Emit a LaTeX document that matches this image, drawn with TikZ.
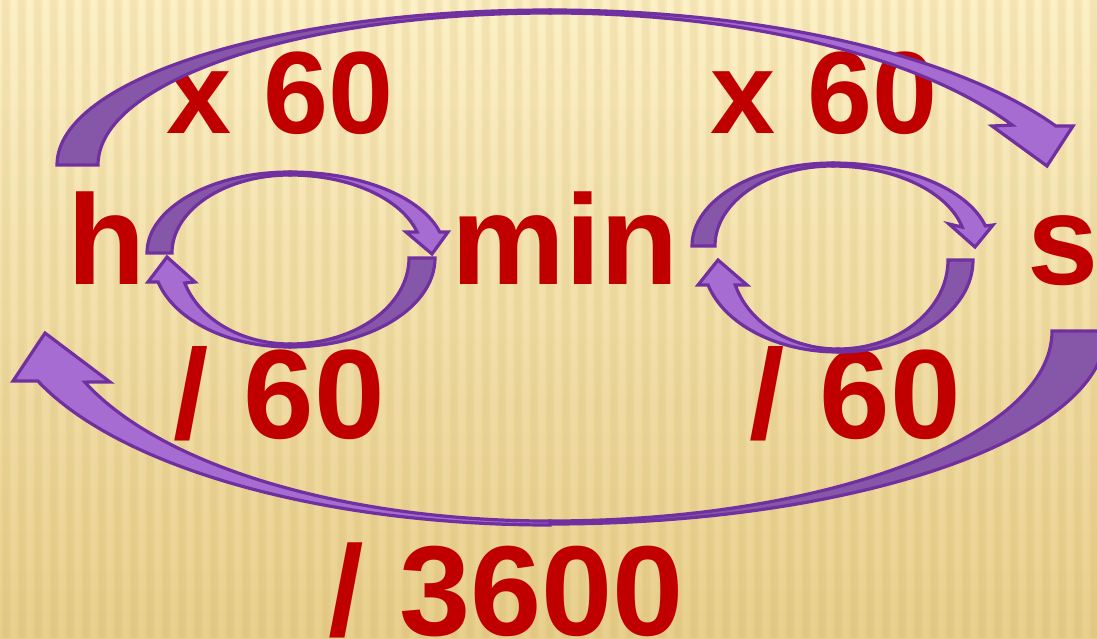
\documentclass[tikz,border=0pt]{standalone}
\usepackage{fontspec}
\setmainfont{Liberation Sans}
\definecolor{bgtop}{HTML}{FCF0C6}
\definecolor{bgbot}{HTML}{E8CF8D}
\definecolor{stripecol}{HTML}{C9A24E}
\definecolor{txt}{HTML}{C00000}
\definecolor{arline}{HTML}{7030A0}
\definecolor{ardark}{HTML}{8657A9}
\definecolor{arlight}{HTML}{A66CD2}
\tikzset{
  lbl/.style={text=txt, inner sep=0pt, anchor=base, font=\fontsize{#1}{#1}\selectfont\bfseries},
  backpart/.style={fill=ardark, draw=arline, line width=3.2pt, line join=miter},
  frontpart/.style={fill=arlight, draw=arline, line width=3.2pt, line join=miter},
}
\begin{document}
\begin{tikzpicture}[x=1pt,y=1pt]
\useasboundingbox (0,0) rectangle (1097,-638);
% background
\shade[top color=bgtop, bottom color=bgbot] (0,0) rectangle (1097,-638);
\foreach \i in {0,...,68} {
  \fill[stripecol, opacity=0.08] ({\i*16+1},0) rectangle ({\i*16+11},-638);
  \fill[stripecol, opacity=0.08] ({\i*16+3},0) rectangle ({\i*16+9},-638);
}
% texts
\node[lbl=128] (h) at (107,-284) {h};
\node[lbl=128] (min) at (565,-284) {min};
\node[lbl=128] (s) at (1063,-284) {s};
\node[lbl=117] (x1) at (280,-133) {x 60};
\node[lbl=117] (x2) at (824,-133) {x 60};
\node[lbl=127] (d1) at (279,-438) {/ 60};
\node[lbl=127] (d2) at (855,-438) {/ 60};
\node[lbl=128] (d3) at (506,-635) {/ 3600};
% big top arrow h -> s
\path[backpart] (57,-165) arc[start angle=180, end angle=90, x radius=493, y radius=155]
  -- (550,-13) arc[start angle=90, end angle=180, x radius=452, y radius=152] -- cycle;
\path[frontpart] (550,-10) arc[start angle=90, end angle=28.2, x radius=574, y radius=220]
  -- (1073,-126) -- (1047,-166) -- (992,-126) -- (1012.3,-125.1)
  arc[start angle=28.9, end angle=90, x radius=528, y radius=217] -- cycle;
% big bottom arrow s -> h
\path[backpart] (1052,-331) -- (1106,-331) arc[start angle=0, end angle=-90, x radius=556, y radius=193]
  -- (550,-521) arc[start angle=-90, end angle=0, x radius=502, y radius=190] -- cycle;
\path[frontpart] (550,-525) arc[start angle=270, end angle=201.1, x radius=549, y radius=225]
  -- (13,-381) -- (45,-333) -- (110,-382) -- (84.8,-382.1)
  arc[start angle=201.8, end angle=270, x radius=501, y radius=221] -- cycle;
% left loop, top arrow h -> min
\path[backpart] (147,-253) arc[start angle=180, end angle=90, x radius=143, y radius=81]
  -- (290,-175) arc[start angle=90, end angle=180, x radius=118, y radius=78] -- cycle;
\path[frontpart] (290,-172) arc[start angle=90, end angle=15, x radius=155, y radius=81]
  -- (448,-232) -- (432,-254) -- (406,-232) -- (417.1,-232)
  arc[start angle=15.6, end angle=90, x radius=132, y radius=78] -- cycle;
% left loop, bottom arrow min -> h
\path[backpart] (409,-258) -- (435,-258) arc[start angle=0, end angle=-90, x radius=145, y radius=89]
  -- (290,-344) arc[start angle=-90, end angle=0, x radius=119, y radius=86] -- cycle;
\path[frontpart] (290,-347) arc[start angle=270, end angle=195.6, x radius=137, y radius=89]
  -- (148,-282) -- (167,-257) -- (195,-282) -- (184.8,-283)
  arc[start angle=196.9, end angle=270, x radius=110, y radius=86] -- cycle;
% right loop, top arrow min -> s
\path[backpart] (692,-246) arc[start angle=180, end angle=90, x radius=141, y radius=83]
  -- (833,-166) arc[start angle=90, end angle=180, x radius=118, y radius=80] -- cycle;
\path[frontpart] (833,-163) arc[start angle=90, end angle=14, x radius=157, y radius=83]
  -- (993,-225) -- (975,-247) -- (949,-224) -- (962.2,-227.1)
  arc[start angle=13.7, end angle=90, x radius=133, y radius=80] -- cycle;
% right loop, bottom arrow s -> min
\path[backpart] (948,-260) -- (973,-260) arc[start angle=0, end angle=-90, x radius=135, y radius=92]
  -- (838,-349) arc[start angle=-90, end angle=0, x radius=110, y radius=89] -- cycle;
\path[frontpart] (838,-352) arc[start angle=270, end angle=195.8, x radius=135, y radius=92]
  -- (698,-285) -- (718,-260) -- (747,-285) -- (735.3,-285)
  arc[start angle=196.3, end angle=270, x radius=107, y radius=89] -- cycle;
\end{tikzpicture}
\end{document}
